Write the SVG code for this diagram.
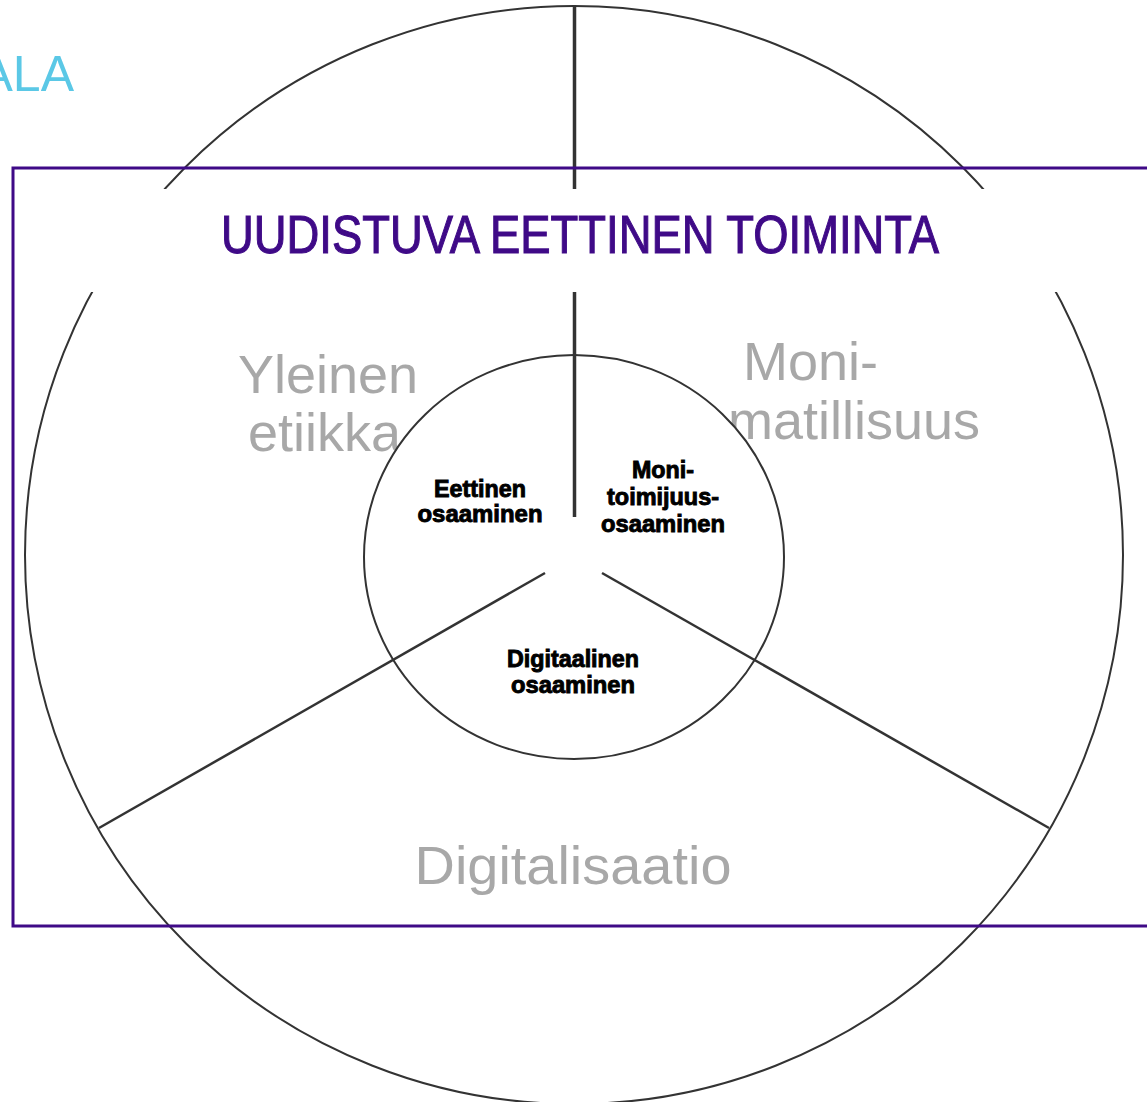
<svg xmlns="http://www.w3.org/2000/svg" width="1147" height="1102" viewBox="0 0 1147 1102">
<style>
.ring{fill:#fff;stroke:#333;stroke-width:2}
.spoke{stroke:#333;fill:none}
.big{font-family:"Liberation Sans",Arial,sans-serif;font-size:54px;fill:#a8a8a8}
.small{font-family:"Liberation Sans",Arial,sans-serif;font-size:23px;font-weight:bold;fill:#000;stroke:#000;stroke-width:0.9;text-anchor:middle}
</style>
<rect width="1147" height="1102" fill="#fff"/>
<text x="74" y="91" font-family="Liberation Sans, Arial, sans-serif" font-size="50" fill="#5bc8e6" text-anchor="end">ALA</text>
<g id="outer">
<circle class="ring" cx="574" cy="555" r="549"/>
</g>
<g id="yleinen"><text class="big" x="238" y="393">Yleinen</text><text class="big" x="248" y="451">etiikka</text></g>
<g id="moni"><text class="big" x="743" y="380">Moni-</text><text class="big" x="980" y="439" text-anchor="end">matillisuus</text></g>
<g id="digitalisaatio"><text class="big" x="573" y="884" text-anchor="middle" textLength="317" lengthAdjust="spacingAndGlyphs">Digitalisaatio</text></g>
<g id="inner">
<ellipse class="ring" cx="574" cy="557" rx="210" ry="202"/>
</g>
<g id="connectors">
<line class="spoke" style="stroke-width:3.5" x1="574.5" y1="6" x2="574.5" y2="517"/>
<line class="spoke" style="stroke-width:2.5" x1="545" y1="573" x2="99" y2="828"/>
<line class="spoke" style="stroke-width:2.5" x1="602" y1="573" x2="1049" y2="828"/>
</g>
<g id="title">
<rect x="20" y="189" width="1127" height="103" fill="#fff"/>
<text x="221" y="253" font-family="Liberation Sans, Arial, sans-serif" font-size="53" fill="#3f0a87" stroke="#3f0a87" stroke-width="1.1" textLength="718" lengthAdjust="spacingAndGlyphs">UUDISTUVA EETTINEN TOIMINTA</text>
</g>
<g id="frame">
<rect x="13" y="168" width="1150" height="758" fill="none" stroke="#3f0a87" stroke-width="3"/>
</g>
<g id="eettinen-osaaminen">
<text class="small" x="480" y="497" textLength="92" lengthAdjust="spacingAndGlyphs">Eettinen</text>
<text class="small" x="480" y="522" textLength="125" lengthAdjust="spacingAndGlyphs">osaaminen</text>
</g>
<g id="monitoimijuus-osaaminen">
<text class="small" x="663" y="478" textLength="62" lengthAdjust="spacingAndGlyphs">Moni-</text>
<text class="small" x="663" y="505" textLength="112" lengthAdjust="spacingAndGlyphs">toimijuus-</text>
<text class="small" x="663" y="532" textLength="124" lengthAdjust="spacingAndGlyphs">osaaminen</text>
</g>
<g id="digitaalinen-osaaminen">
<text class="small" x="573" y="667" textLength="132" lengthAdjust="spacingAndGlyphs">Digitaalinen</text>
<text class="small" x="573" y="693" textLength="124" lengthAdjust="spacingAndGlyphs">osaaminen</text>
</g>
</svg>
